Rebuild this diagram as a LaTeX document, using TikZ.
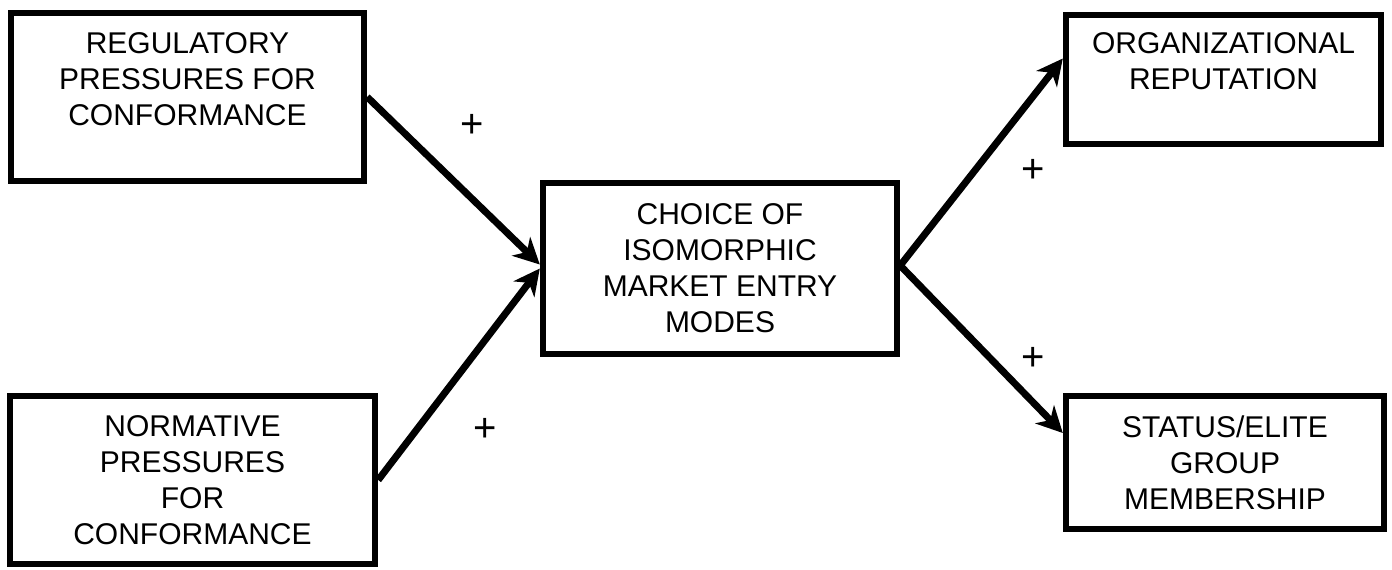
\documentclass[tikz,border=0pt]{standalone}
\usepackage{fontspec}
\setmainfont{Liberation Sans}
\usetikzlibrary{arrows.meta}

\tikzset{
    box/.style={draw, line width=3.2pt, align=center, inner sep=0pt,
        font=\fontsize{15}{18}\selectfont},
    link/.style={line width=3.5pt, -{Stealth[length=13pt, width=13pt, inset=4pt]}},
    plussign/.style={font=\fontsize{20}{20}\selectfont, inner sep=0pt}
}

\begin{document}
\begin{tikzpicture}[x=0.5pt, y=-0.5pt]

    \useasboundingbox (0,0) rectangle (1392,569);

    %-------------------------
    % Riquadri a sinistra
    %-------------------------
    \node[box, minimum width=176.5pt, minimum height=84pt] (reg) at (187.5,97)
        {REGULATORY\\PRESSURES FOR\\CONFORMANCE\\\mbox{}};

    \node[box, minimum width=182.5pt, minimum height=84pt] (norm) at (192.5,480)
        {NORMATIVE\\PRESSURES\\FOR\\CONFORMANCE};

    %-------------------------
    % Riquadro centrale
    %-------------------------
    \node[box, minimum width=177pt, minimum height=85.5pt] (choice) at (720,268.5)
        {CHOICE OF\\ISOMORPHIC\\MARKET ENTRY\\MODES};

    %-------------------------
    % Riquadri a destra
    %-------------------------
    \node[box, minimum width=157.5pt, minimum height=64.5pt] (org) at (1223.5,79.5)
        {ORGANIZATIONAL\\REPUTATION\\\mbox{}};

    \node[box, minimum width=159pt, minimum height=66.5pt] (status) at (1225,462.5)
        {STATUS/ELITE\\GROUP\\MEMBERSHIP};

    %-------------------------
    % Frecce
    %-------------------------
    \draw[link] (reg.east) -- ([yshift=2pt]choice.west);
    \draw[link] (norm.east) -- (choice.west);

    \draw[link] ([yshift=1.5pt]choice.east) -- ([yshift=10.5pt]org.west);
    \draw[link] ([yshift=1.5pt]choice.east) -- ([yshift=14.75pt]status.west);

    % Segni +
    \node[plussign] (p1) at (472,126) {+};
    \node[plussign] (p2) at (485,430) {+};
    \node[plussign] (p3) at (1033,171) {+};
    \node[plussign] (p4) at (1033,359) {+};

\end{tikzpicture}
\end{document}
